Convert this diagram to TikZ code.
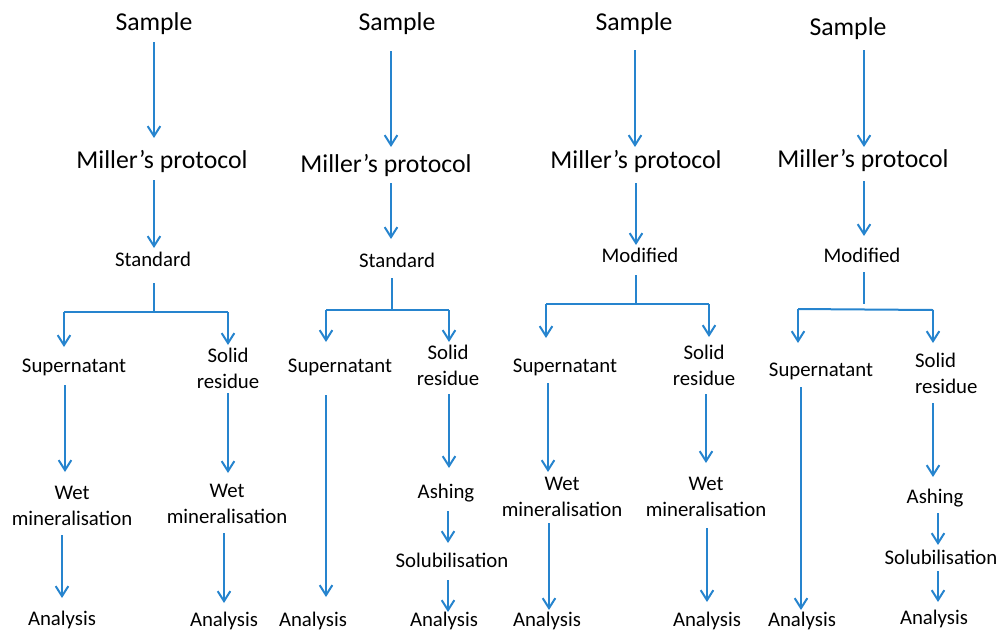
\documentclass[tikz,border=0pt]{standalone}
\usepackage{fontspec}
\setmainfont{Carlito}
\usetikzlibrary{arrows.meta,calc}
\definecolor{flow}{RGB}{38,132,206}
\tikzset{
  big/.style={anchor=base, inner sep=0pt, outer sep=0pt, font=\fontsize{19.3}{23}\selectfont},
  small/.style={anchor=base, inner sep=0pt, outer sep=0pt, align=center, font=\fontsize{15.6}{19.5}\selectfont},
  conn/.style={draw=flow, line width=1.5pt},
  arr/.style={conn, -{Straight Barb[length=7.5pt, width=9.5pt, line width=1.5pt]}}
}
% #1 x (px), #2 from node, #3 gap below its base, #4 to node, #5 gap above its base
% (for two-line nodes the base is the baseline of the last line)
\newcommand\flowlink[5]{%
  \coordinate (lx) at (#1,0);
  \draw[arr] ($(#2.base -| lx)+(0,#3)$) -- ($(#4.base -| lx)+(0,-#5)$);
}
\begin{document}
\begin{tikzpicture}[x=0.75pt,y=-0.75pt]
\useasboundingbox (0,0) rectangle (998,632);

% ---------------- Column 1 ----------------
\node[big] (s1) at (154,30) {Sample};
\node[big] (m1) at (162,168) {Miller’s protocol};
\node[small] (t1) at (153,266) {Standard};
\node[small] (a1) at (74,372) {Supernatant};
\node[small] (b1) at (228,388) {Solid\\residue};
\node[small] (c1) at (72,525) {Wet\\mineralisation};
\node[small] (d1) at (227,523) {Wet\\mineralisation};
\node[small] (e1) at (62,625) {Analysis};
\node[small] (f1) at (224,626) {Analysis};
\coordinate (j1) at (154,312);
\coordinate (j1L) at (64,312);
\coordinate (j1R) at (228,312);
\flowlink{154}{s1}{12}{m1}{30}
\flowlink{154}{m1}{12}{t1}{18}
\draw[conn] ($(t1.base -| j1)+(0,17)$) -- (j1);
\draw[conn] (j1L) -- (j1R);
\draw[arr] (j1L) -- ($(a1.base -| j1L)+(0,-25)$);
\draw[arr] (j1R) -- ($(b1.base -| j1R)+(0,-43)$);
\flowlink{65}{a1}{13}{c1}{53}
\flowlink{228}{b1}{5}{d1}{50}
\flowlink{62}{c1}{10}{e1}{27}
\flowlink{224}{d1}{10}{f1}{23}

% ---------------- Column 2 ----------------
\node[big] (s2) at (397,30) {Sample};
\node[big] (m2) at (386,172) {Miller’s protocol};
\node[small] (t2) at (397,267) {Standard};
\node[small] (a2) at (340,372) {Supernatant};
\node[small] (b2) at (448,385) {Solid\\residue};
\node[small] (g2) at (446,498) {Ashing};
\node[small] (h2) at (452,567) {Solubilisation};
\node[small] (e2) at (313,626) {Analysis};
\node[small] (f2) at (444,626) {Analysis};
\coordinate (j2) at (392,310);
\coordinate (j2L) at (326,310);
\coordinate (j2R) at (449,310);
\flowlink{391}{s2}{21}{m2}{25}
\flowlink{391}{m2}{11}{t2}{28}
\draw[conn] ($(t2.base -| j2)+(0,11)$) -- (j2);
\draw[conn] (j2L) -- (j2R);
\draw[arr] (j2L) -- ($(a2.base -| j2L)+(0,-30)$);
\draw[arr] (j2R) -- ($(b2.base -| j2R)+(0,-43)$);
\flowlink{326}{a2}{23}{e2}{29}
\flowlink{449}{b2}{9}{g2}{30}
\flowlink{448}{g2}{13}{h2}{24}
\flowlink{448}{h2}{13}{f2}{14}

% ---------------- Column 3 ----------------
\node[big] (s3) at (634,30) {Sample};
\node[big] (m3) at (636,168) {Miller’s protocol};
\node[small] (t3) at (640,262) {Modified};
\node[small] (a3) at (565,372) {Supernatant};
\node[small] (b3) at (704,385) {Solid\\residue};
\node[small] (c3) at (562,516) {Wet\\mineralisation};
\node[small] (d3) at (706,516) {Wet\\mineralisation};
\node[small] (e3) at (547,626) {Analysis};
\node[small] (f3) at (707,626) {Analysis};
\coordinate (j3) at (636,304);
\coordinate (j3L) at (546,304);
\coordinate (j3R) at (709,304);
\flowlink{635}{s3}{20}{m3}{21}
\flowlink{636}{m3}{15}{t3}{17}
\draw[conn] ($(t3.base -| j3)+(0,13)$) -- (j3);
\draw[conn] (j3L) -- (j3R);
\draw[arr] (j3L) -- ($(a3.base -| j3L)+(0,-34)$);
\draw[arr] (j3R) -- ($(b3.base -| j3R)+(0,-48)$);
\flowlink{548}{a3}{11}{c3}{44}
\flowlink{706}{b3}{9}{d3}{53}
\flowlink{549}{c3}{7}{e3}{16}
\flowlink{707}{d3}{12}{f3}{24}

% ---------------- Column 4 ----------------
\node[big] (s4) at (848,35) {Sample};
\node[big] (m4) at (863,167) {Miller’s protocol};
\node[small] (t4) at (862,262) {Modified};
\node[small] (a4) at (821,376) {Supernatant};
\node[small, anchor=base west, align=left] (b4) at (915,393) {Solid\\residue};
\node[small] (g4) at (935,503) {Ashing};
\node[small] (h4) at (941,564) {Solubilisation};
\node[small] (e4) at (802,626) {Analysis};
\node[small] (f4) at (934,624) {Analysis};
\coordinate (j4) at (864,304);
\coordinate (j4L) at (798,309);
\coordinate (j4R) at (933,310);
\flowlink{864}{s4}{15}{m4}{20}
\flowlink{864}{m4}{14}{t4}{26}
\draw[conn] ($(t4.base -| j4)+(0,10)$) -- (j4);
\draw[conn] (j4L) -- (j4R);
\draw[arr] (j4L) -- ($(a4.base -| j4L)+(0,-33)$);
\draw[arr] (j4R) -- ($(b4.base -| j4R)+(0,-50)$);
\flowlink{801}{a4}{11}{e4}{16}
\flowlink{933}{b4}{10}{g4}{26}
\flowlink{938}{g4}{10}{h4}{19}
\flowlink{938}{h4}{7}{f4}{22}
\end{tikzpicture}
\end{document}
